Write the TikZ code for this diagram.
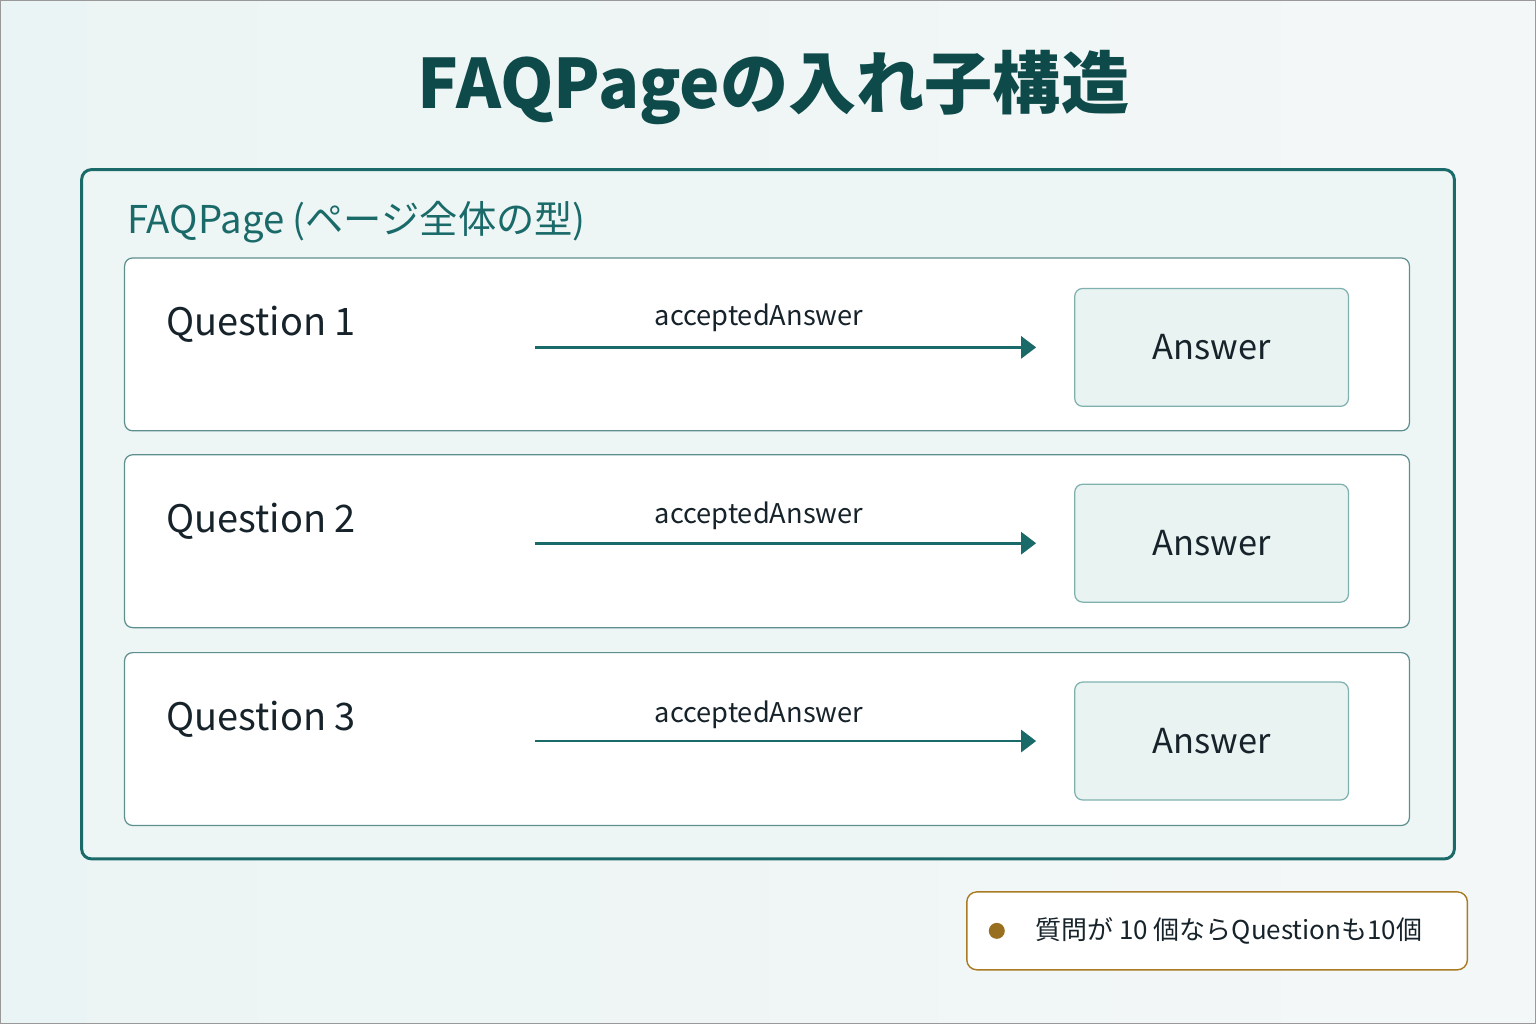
\documentclass[tikz,border=0pt]{standalone}
\usepackage{fontspec}
\setmainfont{Noto Sans CJK JP}
\usetikzlibrary{arrows.meta,positioning}

\definecolor{bgmint}{HTML}{EBF4F4}
\definecolor{bgpale}{HTML}{F4F7F7}
\definecolor{titleteal}{HTML}{0E4A4A}
\definecolor{frameteal}{HTML}{1B6A6A}
\definecolor{framefill}{HTML}{EEF6F5}
\definecolor{rowline}{HTML}{5E8F8F}
\definecolor{ansfill}{HTML}{E8F3F2}
\definecolor{ansline}{HTML}{7FB1AE}
\definecolor{inkdark}{HTML}{17232A}
\definecolor{notegold}{HTML}{A97B22}

\tikzset{
  rowbox/.style={draw=rowline, line width=0.35pt, fill=white, rounded corners=0.08cm,
    minimum width=12.86cm, minimum height=1.73cm},
  ansbox/.style={draw=ansline, line width=0.35pt, fill=ansfill, rounded corners=0.08cm,
    minimum width=2.74cm, minimum height=1.18cm, text=inkdark,
    font=\fontsize{9.8}{12}\selectfont},
  qlabel/.style={anchor=base west, inner sep=0pt, text=inkdark,
    font=\fontsize{10.8}{13}\selectfont},
  rellabel/.style={anchor=base, inner sep=0pt, text=inkdark,
    font=\fontsize{7.75}{10}\selectfont},
  flow/.style={-{Triangle[length=0.15cm,width=0.22cm]}, line width=0.8pt,
    draw=frameteal, shorten >=0.38cm},
}

\begin{document}
\begin{tikzpicture}

% background
\shade[left color=bgmint, right color=bgpale, draw=gray!80, line width=0.4pt]
  (0,0) rectangle (15.36,10.24);
\useasboundingbox (0,0) rectangle (15.36,10.24);

% title
\node[anchor=base, inner sep=0pt, text=titleteal,
  font=\fontsize{19.4}{24}\selectfont\bfseries]
  (title) at (7.735,9.16) {FAQPageの入れ子構造};

% outer FAQPage frame
\node[draw=frameteal, line width=0.85pt, fill=framefill, rounded corners=0.1cm,
  minimum width=13.74cm, minimum height=6.90cm] (page) at (7.68,5.10) {};
\node[anchor=base west, inner sep=0pt, text=frameteal, font=\fontsize{10.9}{13}\selectfont]
  (pagelabel) at (1.26,7.91) {FAQPage (ページ全体の型)};

% Question 1
\node[rowbox] (row1) at (7.67,6.80) {};
\node[qlabel] (q1) at (1.65,6.89) {Question 1};
\node[ansbox] (a1) at (12.12,6.77) {Answer};
\coordinate (s1) at (5.35,6.77);
\draw[flow] (s1) -- (a1);
\node[rellabel] (r1) at (7.59,6.99) {acceptedAnswer};

% Question 2
\node[rowbox] (row2) at (7.67,4.83) {};
\node[qlabel] (q2) at (1.65,4.92) {Question 2};
\node[ansbox] (a2) at (12.12,4.81) {Answer};
\coordinate (s2) at (5.35,4.81);
\draw[flow] (s2) -- (a2);
\node[rellabel] (r2) at (7.59,5.01) {acceptedAnswer};

% Question 3
\node[rowbox] (row3) at (7.67,2.85) {};
\node[qlabel] (q3) at (1.65,2.94) {Question 3};
\node[ansbox] (a3) at (12.12,2.83) {Answer};
\coordinate (s3) at (5.35,2.83);
\draw[flow] (s3) -- (a3);
\node[rellabel] (r3) at (7.59,3.02) {acceptedAnswer};

% note
\node[draw=notegold, line width=0.4pt, fill=white, rounded corners=0.1cm,
  minimum width=5.01cm, minimum height=0.78cm] (note) at (12.175,0.93) {};
\fill[notegold!90!black] (9.97,0.93) circle (0.08);
\node[anchor=west, inner sep=0pt, text=inkdark, font=\fontsize{7.4}{10}\selectfont]
  (notetext) at (10.35,0.93) {質問が 10 個ならQuestionも10個};

\end{tikzpicture}
\end{document}
